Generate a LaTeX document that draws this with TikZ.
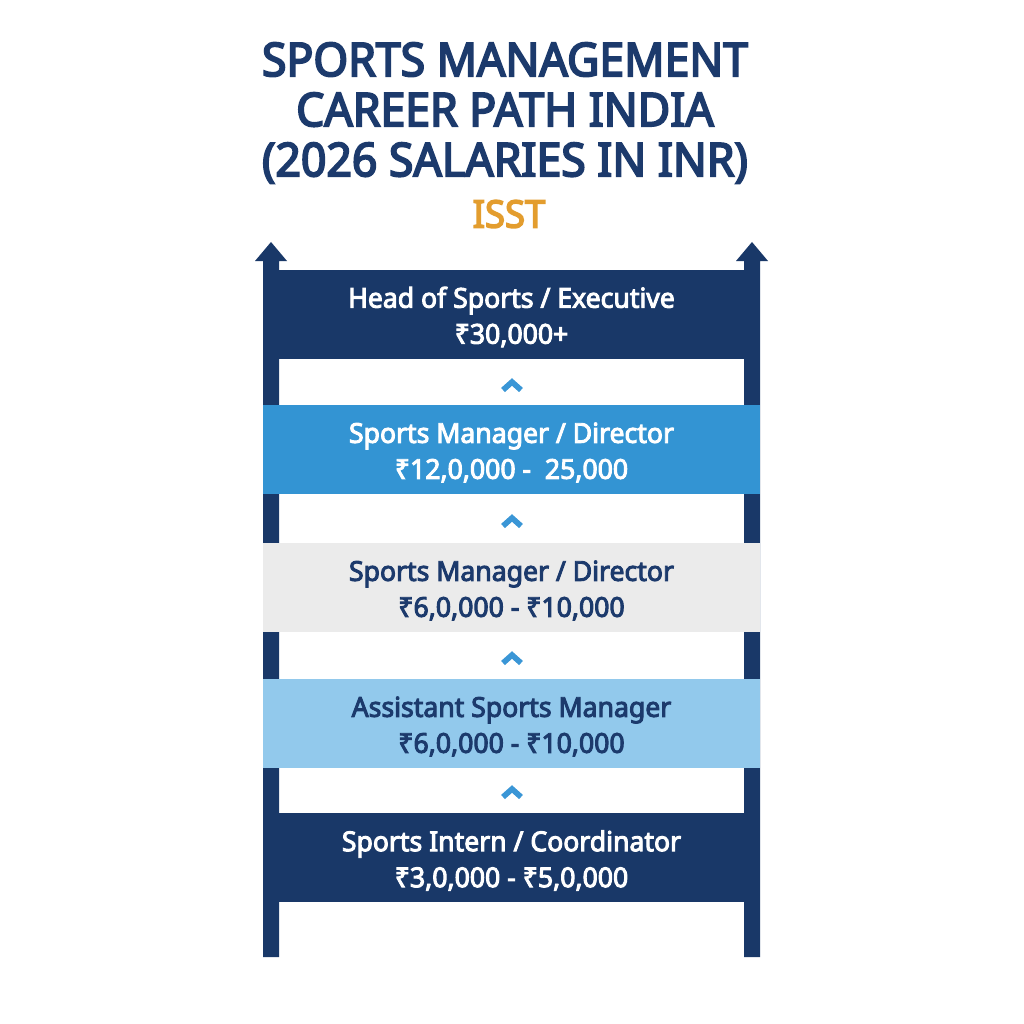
\documentclass[tikz,border=0pt]{standalone}
\usepackage{fontspec}
\setmainfont{Noto Sans}
\newfontfamily\titlefont[FakeStretch=0.96, FakeBold=4]{Noto Sans}
\newfontfamily\bandfont[FakeStretch=0.97, FakeBold=3.5]{Noto Sans}
\definecolor{navy}{RGB}{25,56,104}
\definecolor{tnavy}{RGB}{28,58,108}
\definecolor{midblue}{RGB}{51,148,211}
\definecolor{greyband}{RGB}{235,235,235}
\definecolor{lightblue}{RGB}{146,201,236}
\definecolor{isst}{RGB}{227,157,46}
\definecolor{chev}{RGB}{58,150,214}
\tikzset{
  band/.style={minimum width=497*0.025cm, minimum height=89*0.025cm, inner sep=0pt},
  bandtext/.style={inner sep=0pt, align=center, font=\bandfont\fontsize{19.5}{25.6}\selectfont},
  pole/.style={fill=navy},
  chevron/.style={draw=chev, line width=4pt, miter limit=10},
}
\begin{document}
\begin{tikzpicture}[x=0.025cm,y=-0.025cm]
\useasboundingbox[fill=white] (0,0) rectangle (1024,1024);
% title
\node[text=tnavy, align=center, font=\titlefont\fontsize{33}{35.6}\selectfont] (title) at (505,113)
  {SPORTS MANAGEMENT\\CAREER PATH INDIA\\(2026 SALARIES IN INR)};
\node[text=isst, font=\titlefont\fontsize{27}{30}\selectfont] (isst) at (509,214) {ISST};
% poles with arrowheads
\fill[pole] (263,957) -- (263,261) -- (255,261) -- (271,242) -- (287,261) -- (279,261) -- (279,957) -- cycle;
\fill[pole] (744,957) -- (744,261) -- (736,261) -- (752,242) -- (768,261) -- (760,261) -- (760,957) -- cycle;
% bands
\node[band, fill=navy] (b5) at (511.5,314) {};
\node[band, fill=midblue] (b4) at (511.5,449.5) {};
\node[band, fill=greyband] (b3) at (511.5,587.5) {};
\node[band, fill=lightblue] (b2) at (511.5,723.5) {};
\node[band, fill=navy] (b1) at (511.5,857.5) {};
\node[bandtext, text=white] (t5) at ([yshift=-3*0.025cm]b5.center) {Head of Sports / Executive\\₹30,000+};
\node[bandtext, text=white] (t4) at ([yshift=-3*0.025cm]b4.center) {Sports Manager / Director\\₹12,0,000 -\ \ 25,000};
\node[bandtext, text=tnavy] (t3) at ([yshift=-3*0.025cm]b3.center) {Sports Manager / Director\\₹6,0,000 - ₹10,000};
\node[bandtext, text=tnavy] (t2) at ([yshift=-3*0.025cm]b2.center) {Assistant Sports Manager\\₹6,0,000 - ₹10,000};
\node[bandtext, text=white] (t1) at ([yshift=-3*0.025cm]b1.center) {Sports Intern / Coordinator\\₹3,0,000 - ₹5,0,000};
% chevrons
\foreach \y in {385,521,658,792}{
  \draw[chevron] (503,\y+5) -- (512,\y-3) -- (521,\y+5);
}
\end{tikzpicture}
\end{document}
